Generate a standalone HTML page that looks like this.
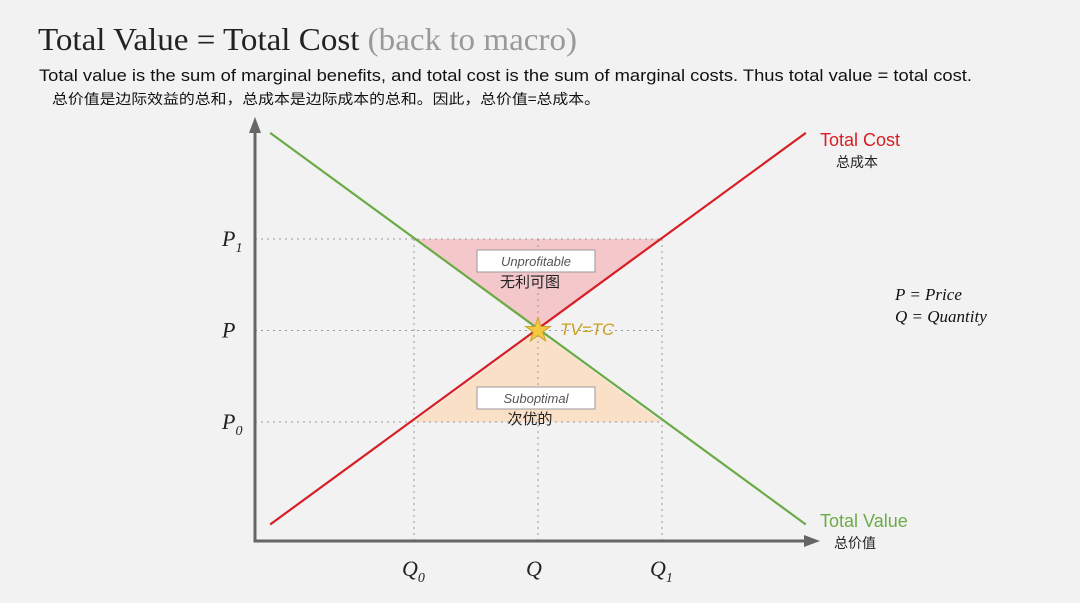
<!DOCTYPE html>
<html><head><meta charset="utf-8"><style>
body{margin:0;background:#f2f2f2;width:1080px;height:603px;overflow:hidden;font-family:"Liberation Sans","Noto Sans CJK SC",sans-serif}
svg{position:absolute;left:0;top:0}
</style></head><body>
<svg width="1080" height="603">
<text x="38" y="50" font-family="Liberation Serif,serif" font-size="32" fill="#222" textLength="539" lengthAdjust="spacingAndGlyphs">Total Value = Total Cost <tspan fill="#999">(back to macro)</tspan></text>
<text x="39" y="81" font-size="17" fill="#111" textLength="933" lengthAdjust="spacingAndGlyphs">Total value is the sum of marginal benefits, and total cost is the sum of marginal costs. Thus total value = total cost.</text>
<text x="52" y="104" font-family="Noto Sans CJK SC,sans-serif" font-size="14" fill="#111" textLength="548" lengthAdjust="spacingAndGlyphs">总价值是边际效益的总和，总成本是边际成本的总和。因此，总价值=总成本。</text>
<g id="plot"></g>
<text x="895" y="300" font-family="Liberation Serif,serif" font-style="italic" font-size="17" fill="#111">P = Price</text>
<text x="895" y="322" font-family="Liberation Serif,serif" font-style="italic" font-size="17" fill="#111">Q = Quantity</text>
</svg>
<script>
const qTicks=[1,2,3];
const qLabels=["Q","Q","Q"];
const qSubs=["0","","1"];
const pTicks=[1,2,3];
const pLabels=["P","P","P"];
const pSubs=["0","","1"];
const supply=[[-0.16,-0.12],[4.16,4.16]];
const demand=[[-0.16,4.16],[4.16,-0.12]];
const eq=[2,2];
const X=q=>290+124*q, Y=p=>513.5-91.5*p;
const NS="http://www.w3.org/2000/svg", g=document.getElementById('plot');
function mk(t,a,txt){const e=document.createElementNS(NS,t);for(const k in a)e.setAttribute(k,a[k]);if(txt!=null)e.textContent=txt;g.appendChild(e);return e;}
let a1=mk('polygon',{points:`${X(qTicks[0])},${Y(pTicks[2])} ${X(qTicks[2])},${Y(pTicks[2])} ${X(eq[0])},${Y(eq[1])}`,fill:'#f4c8cb'});


let a2=mk('polygon',{points:`${X(qTicks[0])},${Y(pTicks[0])} ${X(qTicks[2])},${Y(pTicks[0])} ${X(eq[0])},${Y(eq[1])}`,fill:'#fbe0c8'});


qTicks.forEach((q,i)=>{let l=mk('line',{x1:X(q),x2:X(q),y1:Y(pTicks[2]),y2:541,stroke:'#999','stroke-dasharray':'2,4'});


let t=mk('text',{x:X(q)-12,y:576,'font-family':'Liberation Serif,serif','font-style':'italic','font-size':22,fill:'#222'},qLabels[i]);


if(qSubs[i]){const s=document.createElementNS(NS,'tspan');s.setAttribute('font-size',14);s.setAttribute('dy',6);s.textContent=qSubs[i];t.appendChild(s);}});
pTicks.forEach((p,i)=>{let l=mk('line',{x1:255,x2:X(qTicks[2]),y1:Y(p),y2:Y(p),stroke:'#999','stroke-dasharray':'2,4'});


let t=mk('text',{x:222,y:Y(p)+7,'font-family':'Liberation Serif,serif','font-style':'italic','font-size':22,fill:'#222'},pLabels[i]);


if(pSubs[i]){const s=document.createElementNS(NS,'tspan');s.setAttribute('font-size',14);s.setAttribute('dy',6);s.textContent=pSubs[i];t.appendChild(s);}});
let ax=mk('path',{d:'M255,125 L255,541 L810,541',fill:'none',stroke:'#666','stroke-width':3});


let ar1=mk('polygon',{points:'249,133 255,117 261,133',fill:'#666'});


let ar2=mk('polygon',{points:'804,535 820,541 804,547',fill:'#666'});


let ls=mk('line',{x1:X(supply[0][0]),y1:Y(supply[0][1]),x2:X(supply[1][0]),y2:Y(supply[1][1]),stroke:'#d81e25','stroke-width':2.2});


let ld=mk('line',{x1:X(demand[0][0]),y1:Y(demand[0][1]),x2:X(demand[1][0]),y2:Y(demand[1][1]),stroke:'#6bab47','stroke-width':2.2});


function box(cx,cy,txt,cn,name){let r=mk('rect',{x:cx-59,y:cy-11,width:118,height:22,fill:'#fff',stroke:'#999'});


let t=mk('text',{x:cx,y:cy+5,'text-anchor':'middle','font-style':'italic','font-size':13,fill:'#555'},txt);


let c=mk('text',{x:cx-6,y:cy+26,'text-anchor':'middle','font-family':'Noto Sans CJK SC,sans-serif','font-size':15,fill:'#222'},cn);

}
box(536,261,'Unprofitable','无利可图','unprofitable');
box(536,398,'Suboptimal','次优的','suboptimal');
const cx=X(eq[0]),cy=Y(eq[1]);let pts=[];for(let i=0;i<10;i++){const r=i%2?5:13,a=-Math.PI/2+i*Math.PI/5;pts.push((cx+r*Math.cos(a)).toFixed(1)+','+(cy+r*Math.sin(a)).toFixed(1));}
let st=mk('polygon',{points:pts.join(' '),fill:'#f5c842',stroke:'#c9a22c','stroke-width':1});


let tv=mk('text',{x:560,y:335,'font-style':'italic','font-size':17,fill:'#c9a020'},'TV=TC');


let t1=mk('text',{x:820,y:146,'font-size':18,fill:'#d81e25'},'Total Cost');


let t2=mk('text',{x:836,y:167,'font-family':'Noto Sans CJK SC,sans-serif','font-size':14,fill:'#222'},'总成本');


let t3=mk('text',{x:820,y:527,'font-size':18,fill:'#6bab47'},'Total Value');


let t4=mk('text',{x:834,y:548,'font-family':'Noto Sans CJK SC,sans-serif','font-size':14,fill:'#222'},'总价值');


</script>
</body></html>
